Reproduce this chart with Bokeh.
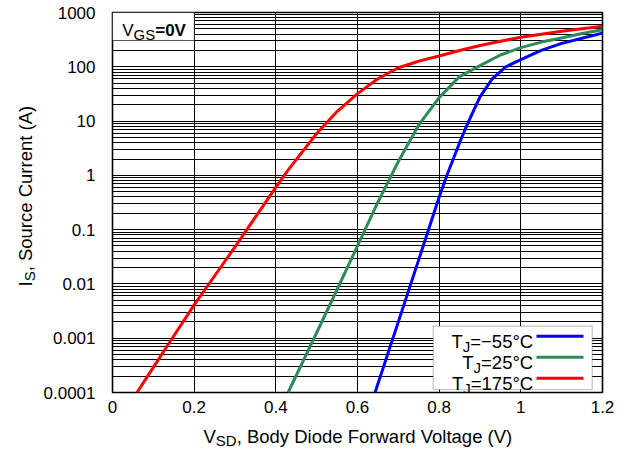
import math
from bokeh.plotting import figure
from bokeh.layouts import row, column
from bokeh.models import FixedTicker, CustomJSTickFormatter, Label, BoxAnnotation
from bokeh.embed import file_html
from bokeh.resources import INLINE

# ---------------- data ----------------
x_ticks = [0, 0.2, 0.4, 0.6, 0.8, 1.0, 1.2]
x_tick_labels = ["0", "0.2", "0.4", "0.6", "0.8", "1", "1.2"]
y_ticks = [0.0001, 0.001, 0.01, 0.1, 1, 10, 100, 1000]
y_tick_labels = ["0.0001", "0.001", "0.01", "0.1", "1", "10", "100", "1000"]

series_names = ["T_J=−55°C", "T_J=25°C", "T_J=175°C"]
series_colors = ["#0000ff", "#2e8b57", "#ff0000"]

v_m55 = [0.643, 0.70, 0.75, 0.80, 0.82, 0.85, 0.87, 0.90, 0.93, 0.963,
         1.00, 1.05, 1.10, 1.15, 1.20]
i_m55 = [1e-4, 2e-3, 0.028, 0.40, 1.05, 4.0, 9.1, 28, 60, 100,
         135, 200, 270, 335, 417]

v_25 = [0.43, 0.50, 0.55, 0.60, 0.65, 0.683, 0.70, 0.75, 0.80, 0.85, 0.90, 0.95,
        1.00, 1.05, 1.10, 1.15, 1.20]
i_25 = [1e-4, 1.26e-3, 7.9e-3, 0.05, 0.32, 1.0, 1.8, 8.5, 27, 66, 105, 165,
        225, 285, 340, 410, 480]

v_175 = [0.06, 0.10, 0.15, 0.20, 0.25, 0.30, 0.35, 0.40, 0.43, 0.45, 0.50, 0.55,
         0.60, 0.65, 0.666, 0.70, 0.731, 0.75, 0.80, 0.85, 0.90, 0.95, 1.00, 1.10, 1.20]
i_175 = [1e-4, 2.9e-4, 1.1e-3, 4.1e-3, 1.4e-2, 4.8e-2, 0.17, 0.60, 1.25, 1.95, 5.9, 15.0,
         32, 60, 70, 96, 114, 127, 158, 200, 246, 295, 350, 450, 560]

# ---------------- layout constants ----------------
FONT = "Liberation Sans"
FW, FH = 491, 380
TOP_B = 12
LEFT_W = 40          # strip holding the y-axis title
MAIN_W, MAIN_H = 580, 420
BOT_B = MAIN_H - TOP_B - FH
BOT_H = 30           # strip holding the x-axis title
MAIN, SUB = 18.5, 15

W = {' ': 278, ',': 278, '.': 278, '(': 333, ')': 333, '=': 584, '−': 584, '°': 400,
     '0': 556, '1': 556, '2': 556, '5': 556, '7': 556,
     'A': 667, 'B': 667, 'C': 722, 'D': 722, 'F': 611, 'G': 778, 'I': 278, 'J': 500,
     'S': 667, 'T': 611, 'V': 667,
     'a': 556, 'c': 500, 'd': 556, 'e': 556, 'g': 556, 'i': 222, 'l': 222, 'n': 556,
     'o': 556, 'r': 333, 't': 278, 'u': 556, 'w': 722, 'y': 500}


def tw(s, size):
    return sum(W.get(c, 556) for c in s) * size / 1000.0


def lab(fig, x, y, text, size, align="left", angle=0.0, bold=False):
    fig.add_layout(Label(x=x, y=y, x_units="screen", y_units="screen", text=text,
                         text_font=FONT, text_font_size=f"{size}px",
                         text_font_style="bold" if bold else "normal",
                         text_color="black", text_align=align,
                         text_baseline="alphabetic", angle=angle))


def strip(w, h, top=0, bottom=0):
    f = figure(width=w, height=h, output_backend="svg", toolbar_location=None,
               title=None, x_axis_location=None, y_axis_location=None,
               x_range=(0, 1), y_range=(0, 1), min_border=0)
    f.min_border_top = top
    f.min_border_bottom = bottom
    f.grid.visible = False
    f.outline_line_color = None
    f.background_fill_color = "white"
    f.border_fill_color = "white"
    return f


# ---------------- main figure ----------------
p = figure(width=MAIN_W, height=MAIN_H, output_backend="svg", toolbar_location=None,
           title=None, x_range=(0, 1.2), y_range=(1e-4, 1000), y_axis_type="log")
p.min_border_left = 71
p.min_border_right = MAIN_W - 71 - FW
p.min_border_top = TOP_B
p.min_border_bottom = BOT_B
p.background_fill_color = "white"
p.border_fill_color = "white"
p.outline_line_color = "black"
p.outline_line_width = 1.6

y_minor = [m * t for t in y_ticks[:-1] for m in range(2, 10)]
xt = FixedTicker(ticks=x_ticks, minor_ticks=[])
yt = FixedTicker(ticks=y_ticks, minor_ticks=y_minor)
p.xaxis.ticker = xt
p.yaxis.ticker = yt
p.xgrid.ticker = xt
p.ygrid.ticker = yt

fmt_code = """
let best = -1, bd = Infinity;
for (let i = 0; i < tvals.length; i++) {
  const d2 = Math.abs(tvals[i] - tick);
  const d = d2 / Math.max(Math.abs(tvals[i]), 1e-12);
  const dd = Math.min(d, d2);
  if (dd < bd) { bd = dd; best = i; }
}
return (best >= 0 && bd < 1e-6) ? tlabs[best] : "";
"""
p.xaxis.formatter = CustomJSTickFormatter(args=dict(tvals=x_ticks, tlabs=x_tick_labels), code=fmt_code)
p.yaxis.formatter = CustomJSTickFormatter(args=dict(tvals=y_ticks, tlabs=y_tick_labels), code=fmt_code)

for ax in (p.xaxis, p.yaxis):
    ax.axis_line_color = None
    ax.major_tick_line_color = None
    ax.minor_tick_line_color = None
    ax.major_label_text_font = FONT
    ax.major_label_text_font_size = "17px"
    ax.major_label_text_color = "black"
p.xaxis.major_label_standoff = 2
p.yaxis.major_label_standoff = 11

p.xgrid.grid_line_color = "black"
p.xgrid.grid_line_width = 1
p.ygrid.grid_line_color = "black"
p.ygrid.grid_line_width = 1
p.ygrid.minor_grid_line_color = "black"
p.ygrid.minor_grid_line_width = 1

for vs, cs, col in ((v_m55, i_m55, series_colors[0]),
                    (v_25, i_25, series_colors[1]),
                    (v_175, i_175, series_colors[2])):
    p.line(vs, cs, line_color=col, line_width=3, line_join="round")

# V_GS=0V box (top-left of frame)
p.add_layout(BoxAnnotation(left=0, right=81.7, bottom=FH - 28, top=FH,
                           left_units="screen", right_units="screen",
                           bottom_units="screen", top_units="screen",
                           fill_color="white", fill_alpha=1.0,
                           line_color="black", line_width=1.2))
gx, gy = 9.7, 361.6
lab(p, gx, gy, "V", 17)
gx += tw("V", 17)
lab(p, gx, gy - 4, "GS", SUB)
gx += tw("GS", SUB)
lab(p, gx, gy, "=0V", 17, bold=True)

# legend box (bottom-right of frame)
p.add_layout(BoxAnnotation(left=320.7, right=479.7, bottom=3, top=66.3,
                           left_units="screen", right_units="screen",
                           bottom_units="screen", top_units="screen",
                           fill_color="white", fill_alpha=1.0,
                           line_color="#333333", line_width=1.2))
rows_y = [50.8, 29.8, 8.8]
text_right = 420.7
for name, col, ry in zip(series_names, series_colors, rows_y):
    head, rest = name.split("_", 1)
    sub_txt, tail = rest[0], rest[1:]
    xr = text_right
    lab(p, xr, ry, tail, MAIN, align="right")
    xr -= tw(tail, MAIN)
    lab(p, xr, ry - 5, sub_txt, SUB, align="right")
    xr -= tw(sub_txt, SUB)
    lab(p, xr, ry, head, MAIN, align="right")
    p.add_layout(BoxAnnotation(left=424, right=471, bottom=ry + 4, top=ry + 7,
                               left_units="screen", right_units="screen",
                               bottom_units="screen", top_units="screen",
                               fill_color=col, fill_alpha=1.0, line_color=None))

# ---------------- y-axis title strip (frame aligned with main frame) ----------------
ys = strip(LEFT_W, MAIN_H, top=TOP_B, bottom=BOT_B)
xb, y0 = 25, (TOP_B + FH) - 286
lab(ys, xb, y0, "I", MAIN, angle=math.pi / 2)
y0 += tw("I", MAIN)
lab(ys, xb + 4, y0, "S", SUB, angle=math.pi / 2)
y0 += tw("S", SUB)
lab(ys, xb, y0, ", Source Current (A)", MAIN, angle=math.pi / 2)

# ---------------- x-axis title strip ----------------
xs = strip(LEFT_W + MAIN_W, BOT_H)
x0, yb = 203, BOT_H - 15.5
lab(xs, x0, yb, "V", MAIN)
x0 += tw("V", MAIN)
lab(xs, x0, yb - 4, "SD", SUB)
x0 += tw("SD", SUB)
lab(xs, x0, yb, ", Body Diode Forward Voltage (V)", MAIN)

layout = column(row(ys, p, spacing=0), xs, spacing=0)
open("out.html", "w").write(file_html(layout, INLINE))
